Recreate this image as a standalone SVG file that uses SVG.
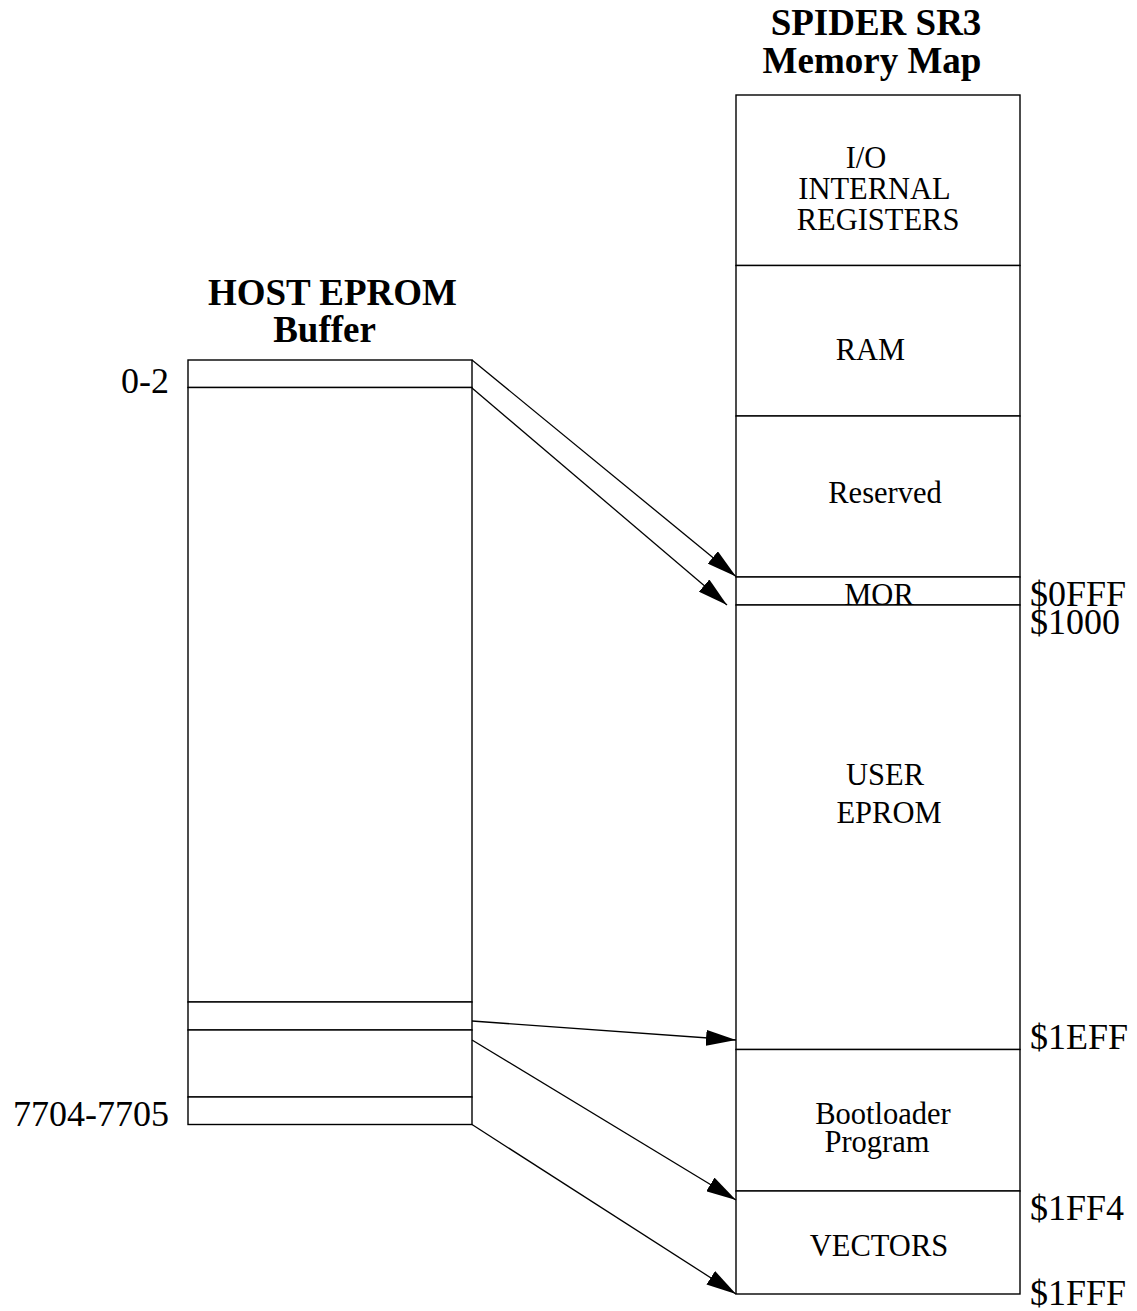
<svg xmlns="http://www.w3.org/2000/svg" width="1137" height="1311" viewBox="0 0 1137 1311">
<style>
.box{fill:#fff;stroke:#000;stroke-width:1.4}
.t{font-family:"Liberation Serif","Times New Roman",serif;font-size:30.5px;fill:#000;text-anchor:middle}
.title{font-family:"Liberation Serif","Times New Roman",serif;font-size:37px;font-weight:bold;fill:#000;text-anchor:middle}
.addr{font-family:"Liberation Serif","Times New Roman",serif;font-size:36px;fill:#000}
.conn{stroke:#000;stroke-width:1.3;fill:none;marker-end:url(#ah)}
</style>
<defs>
<marker id="ah" viewBox="0 0 30 16" refX="30" refY="8" markerWidth="30" markerHeight="16" markerUnits="userSpaceOnUse" orient="auto">
<path d="M0,0 L30,8 L0,16 z" fill="#000"/>
</marker>
</defs>
<rect width="1137" height="1311" fill="#fff"/>

<g id="title-spider">
<text class="title" x="876" y="35">SPIDER SR3</text>
<text class="title" x="872" y="72.5">Memory Map</text>
</g>
<g id="title-host">
<text class="title" x="332.5" y="305">HOST EPROM</text>
<text class="title" x="324.5" y="341.5">Buffer</text>
</g>

<g id="io-registers">
<rect class="box" x="736" y="95" width="284" height="170.5"/>
<text class="t" x="866" y="168">I/O</text>
<text class="t" x="874.5" y="199">INTERNAL</text>
<text class="t" x="878" y="230">REGISTERS</text>
</g>
<g id="ram">
<rect class="box" x="736" y="265.5" width="284" height="150.5"/>
<text class="t" x="870.5" y="360">RAM</text>
</g>
<g id="reserved">
<rect class="box" x="736" y="416" width="284" height="161"/>
<text class="t" x="885" y="503">Reserved</text>
</g>
<g id="mor">
<rect class="box" x="736" y="577" width="284" height="28"/>
<text class="t" x="879" y="605">MOR</text>
</g>
<g id="user-eprom">
<rect class="box" x="736" y="605" width="284" height="444.5"/>
<text class="t" x="885" y="785">USER</text>
<text class="t" x="889" y="822.5">EPROM</text>
</g>
<g id="bootloader">
<rect class="box" x="736" y="1049.5" width="284" height="141.5"/>
<text class="t" x="883" y="1124">Bootloader</text>
<text class="t" x="877" y="1151.5">Program</text>
</g>
<g id="vectors">
<rect class="box" x="736" y="1191" width="284" height="103"/>
<text class="t" x="879" y="1256">VECTORS</text>
</g>

<g id="addr-labels">
<text class="addr" x="1030" y="605.5">$0FFF</text>
<text class="addr" x="1030" y="634">$1000</text>
<text class="addr" x="1030" y="1049">$1EFF</text>
<text class="addr" x="1030" y="1220">$1FF4</text>
<text class="addr" x="1030" y="1305">$1FFF</text>
</g>

<g id="host-0-2">
<rect class="box" x="188" y="360" width="284" height="27.5"/>
<text class="addr" x="169" y="393" text-anchor="end">0-2</text>
</g>
<g id="host-main">
<rect class="box" x="188" y="387.5" width="284" height="614.5"/>
</g>
<g id="host-user-end">
<rect class="box" x="188" y="1002" width="284" height="28"/>
</g>
<g id="host-boot">
<rect class="box" x="188" y="1030" width="284" height="67"/>
</g>
<g id="host-7704-7705">
<rect class="box" x="188" y="1097" width="284" height="27.5"/>
<text class="addr" x="169" y="1125.5" text-anchor="end">7704-7705</text>
</g>

<g id="connectors">
<line class="conn" x1="472" y1="360" x2="736" y2="576.5"/>
<line class="conn" x1="472" y1="388" x2="727" y2="605"/>
<line class="conn" x1="472" y1="1021" x2="736" y2="1040"/>
<line class="conn" x1="472" y1="1040" x2="736" y2="1200"/>
<line class="conn" x1="472" y1="1124.5" x2="736" y2="1294"/>
</g>
</svg>
